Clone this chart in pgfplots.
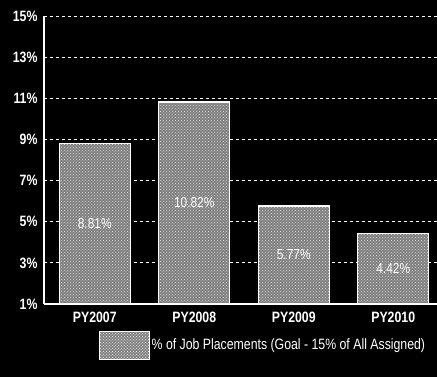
\documentclass[border=0pt]{standalone}
\usepackage{pgfplots}
\pgfplotsset{compat=1.18}
\usepackage{pgfplotstable}
\usepackage{fontspec}
\setmainfont{Liberation Sans}[FakeStretch=0.82]
\usetikzlibrary{patterns}

% Job placement rate by program year
\pgfplotstableread{
x  v     label
0  8.81  PY2007
1  10.82 PY2008
2  5.77  PY2009
3  4.42  PY2010
}\placements

\begin{document}
\begin{tikzpicture}
\fill[black] (0,0) rectangle (437pt,377pt);
\useasboundingbox (0,0) rectangle (437pt,377pt);
\begin{axis}[
  at={(44pt,73pt)}, anchor=south west,
  scale only axis, width=393pt, height=288pt,
  xmin=-0.51, xmax=3.44,
  ymin=1, ymax=15,
  ytick={1,3,...,15},
  yticklabel={\pgfmathprintnumber{\tick}\%},
  xtick=data,
  xticklabels={PY2007,PY2008,PY2009,PY2010},
  major tick length=0pt,
  axis x line=bottom, axis y line=left,
  axis line style={white, line width=1.2pt, -},
  ymajorgrids,
  grid style={white, dash pattern=on 3pt off 3pt, line width=0.8pt},
  /pgf/number format/assume math mode=true,
  ticklabel style={text=white, font=\bfseries\fontsize{15}{17}\selectfont},
  yticklabel style={xshift=-3pt},
  xticklabel style={yshift=-4pt},
  legend style={draw=none, fill=black, text=white,
    font=\fontsize{15}{17}\selectfont,
    at={(0.557,-0.085)}, anchor=north, legend cell align=left},
  legend image code/.code={
    \draw[white, line width=1pt, fill=black!50,
      postaction={pattern=crosshatch dots, pattern color=white!85!black}]
      (0pt,-14pt) rectangle (50pt,14pt);
  },
]
\addplot[ybar, bar width=71pt, bar shift=0pt, draw=white, line width=1.4pt,
  fill=black!50, postaction={pattern=crosshatch dots, pattern color=white!85!black}]
  table[x=x, y=v] {\placements};
\addlegendentry{\% of Job Placements (Goal - 15\% of All Assigned)}
\addplot[draw=none, mark=none, forget plot,
  nodes near coords={\pgfmathprintnumber[fixed, precision=2, zerofill]{\pgfplotspointmeta}\%},
  nodes near coords align=center,
  every node near coord/.append style={text=white, font=\fontsize{14.5}{16}\selectfont, anchor=center},
  point meta=explicit]
  table[x=x, y expr={(1+\thisrow{v})/2}, meta=v] {\placements};
\end{axis}
\end{tikzpicture}
\end{document}
